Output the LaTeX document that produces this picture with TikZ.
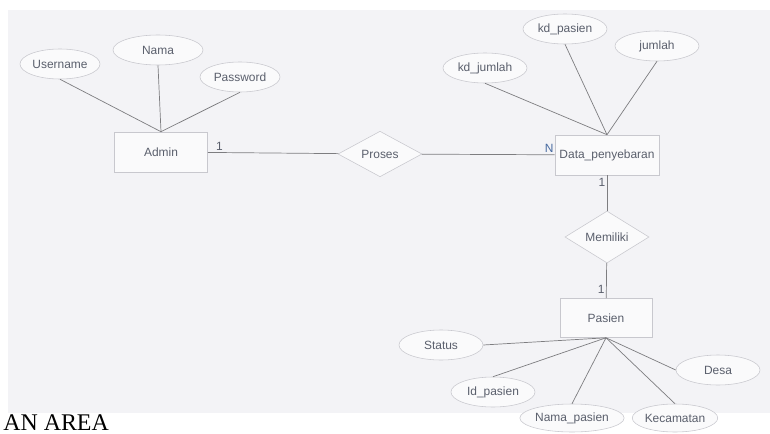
\documentclass[tikz,border=0pt]{standalone}
\usepackage{fontspec}
\setmainfont{Liberation Serif}
\newfontfamily\erfont{Liberation Sans}
\usetikzlibrary{shapes.geometric, positioning}
\definecolor{ERLine}{RGB}{125,125,128}
\definecolor{ERText}{RGB}{90,95,108}
\definecolor{ERBorder}{RGB}{200,200,206}
\definecolor{ERPaper}{RGB}{243,243,246}
\definecolor{ERBlue}{RGB}{70,105,160}
\tikzset{
  entity/.style={rectangle, draw=ERBorder, fill=ERPaper!40!white,
    minimum height=1cm, font=\erfont\fontsize{8.5}{10}\selectfont, text=ERText},
  attr/.style={ellipse, draw=ERBorder, fill=ERPaper!40!white, inner sep=0pt,
    minimum width=2.1cm, minimum height=0.75cm,
    font=\erfont\fontsize{8.5}{10}\selectfont, text=ERText},
  rel/.style={diamond, draw=ERBorder, fill=ERPaper!40!white, inner sep=0pt,
    minimum width=2.1cm, minimum height=1.05cm,
    font=\erfont\fontsize{8.5}{10}\selectfont, text=ERText},
  conn/.style={draw=ERLine, line width=0.5pt},
  card/.style={font=\erfont\fontsize{8.5}{10}\selectfont, text=ERText, inner sep=1pt}
}
\begin{document}
\begin{tikzpicture}[x=0.025cm, y=-0.025cm]
  \useasboundingbox (0,0) rectangle (770,434);
  \clip (0,0) rectangle (770,434);
  \fill[ERPaper] (8,10) rectangle (770,413);
  % entities and relations
  \node[entity, minimum width=2.325cm] (admin) at (161,152) {Admin};
  \node[rel] (proses) at (380,154) {Proses};
  \node[entity, minimum width=2.55cm] (data) at (607,155) {Data\_penyebaran};
  \node[rel] (memiliki) at (607,237) {Memiliki};
  \node[entity, minimum width=2.3cm, minimum height=0.975cm] (pasien) at (606,318) {Pasien};
  % attributes
  \node[attr, minimum width=2cm] (username) at (60,64) {Username};
  \node[attr, minimum width=2.25cm] (nama) at (158,50) {Nama};
  \node[attr, minimum width=2cm] (password) at (240,77) {Password};
  \node[attr] (kdjumlah) at (485,68) {kd\_jumlah};
  \node[attr] (kdpasien) at (565,29) {kd\_pasien};
  \node[attr] (jumlah) at (657,46) {jumlah};
  \node[attr] (status) at (441,345) {Status};
  \node[attr] (idpasien) at (493,392) {Id\_pasien};
  \node[attr, minimum width=2.25cm, minimum height=0.7cm] (namapasien) at (572,418) {Nama\_pasien};
  \node[attr, minimum height=0.7cm] (kecamatan) at (675,418) {Kecamatan};
  \node[attr] (desa) at (718,370) {Desa};
  % connectors
  \draw[conn] (username.south) -- (admin.north);
  \draw[conn] (nama.south) -- (admin.north);
  \draw[conn] (password.south) -- (admin.north);
  \draw[conn] (admin) -- node[card, pos=0.05, above right] {1} (proses);
  \draw[conn] (proses) -- node[card, pos=0.96, above, text=ERBlue] {N} (data);
  \draw[conn] (kdjumlah.south) -- (data.north);
  \draw[conn] (kdpasien.south) -- (data.north);
  \draw[conn] (jumlah.south) -- (data.north);
  \draw[conn] (data) -- node[card, pos=0.2, left] {1} (memiliki);
  \draw[conn] (memiliki) -- node[card, pos=0.75, left] {1} (pasien);
  \draw[conn] (status.east) -- (pasien.south);
  \draw[conn] (idpasien.north) -- (pasien.south);
  \draw[conn] (namapasien.north) -- (pasien.south);
  \draw[conn] (kecamatan.north) -- (pasien.south);
  \draw[conn] (desa.west) -- (pasien.south);
  % caption fragment below the scan
  \node[anchor=base west, inner sep=0pt, font=\fontsize{17}{20}\selectfont] (caption) at (3,430) {AN AREA};
\end{tikzpicture}
\end{document}
